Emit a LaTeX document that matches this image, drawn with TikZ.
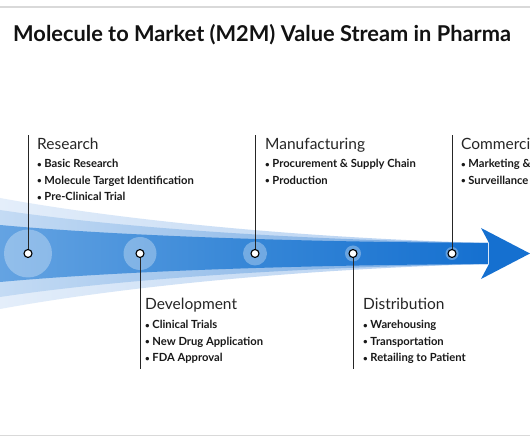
\documentclass[tikz,border=0pt]{standalone}
\usepackage{fontspec}
\setmainfont{Lato}
\definecolor{arrowblue}{RGB}{21,112,208}
\definecolor{coreleft}{RGB}{100,163,226}
\definecolor{bandAl}{RGB}{228,238,250}
\definecolor{bandAr}{RGB}{175,205,240}
\definecolor{bandBl}{RGB}{196,219,244}
\definecolor{bandBr}{RGB}{110,165,225}
\newcommand\mybul{{\fontsize{8}{9}\selectfont\raisebox{0.6pt}{•}}\hspace{2.6pt}}
\begin{document}
\begin{tikzpicture}[x=1pt,y=-1pt,
  dot/.style={circle,draw=black,fill=white,line width=1.1pt,inner sep=0pt,minimum size=8pt},
  halo/.style={circle,fill=white,fill opacity=0.3,inner sep=0pt},
  stem/.style={draw=black!85,line width=0.9pt},
  head/.style={anchor=base west,font=\fontsize{15.5}{18}\selectfont,text=black!85,inner sep=0pt},
  item/.style={anchor=base west,font=\bfseries\fontsize{11.2}{13}\selectfont,text=black!90,inner sep=0pt},
  rule/.style={draw=black!15,line width=1.2pt}]
\useasboundingbox (0,0) rectangle (530,443);
\clip (0,0) rectangle (530,443);
\fill[white] (0,0) rectangle (530,443);
\draw[rule] (0,7) -- (530,7);
\draw[rule] (0,435.5) -- (530,435.5);
\node[anchor=base west,inner sep=0pt,font=\bfseries\fontsize{21.8}{25}\selectfont,text=black!93] (title) at (13,42) {Molecule to Market (M2M) Value Stream in Pharma};
% bands
\shade[left color=bandAl, right color=bandAr]
  (0,198) .. controls (120,220) and (300,238) .. (488,243) -- (488,264)
  .. controls (300,269) and (120,287) .. (0,309) -- cycle;
\shade[left color=bandBl, right color=bandBr]
  (0,210) .. controls (120,228) and (300,240) .. (488,243) -- (488,264)
  .. controls (300,267) and (120,279) .. (0,297) -- cycle;
\shade[left color=coreleft, right color=arrowblue, middle color={rgb,255:red,55;green,135;blue,215}]
  (0,225) .. controls (120,236) and (300,242) .. (488,243) -- (488,264)
  .. controls (300,265) and (120,271) .. (0,282) -- cycle;
\fill[arrowblue] (481,228) -- (530,253.5) -- (481,279) -- (489,264) -- (489,243) -- cycle;
% halos
\node[halo,minimum size=48pt] (g1) at (28,253.5) {};
\node[halo,minimum size=33pt] (g2) at (140,253.5) {};
\node[halo,minimum size=24pt] (g3) at (255,253.5) {};
\node[halo,minimum size=16pt] (g4) at (353,253.5) {};
\node[halo,minimum size=13pt] (g5) at (452,253.5) {};
% dots
\node[dot] (d1) at (28,253.5) {};
\node[dot] (d2) at (140,253.5) {};
\node[dot] (d3) at (255,253.5) {};
\node[dot] (d4) at (353,253.5) {};
\node[dot] (d5) at (452,253.5) {};
\coordinate (t1) at (28,135);
\coordinate (t2) at (140,369);
\coordinate (t3) at (255,135);
\coordinate (t4) at (353,369);
\coordinate (t5) at (452,135);
\draw[stem] (d1.north) -- (t1);
\draw[stem] (d2.south) -- (t2);
\draw[stem] (d3.north) -- (t3);
\draw[stem] (d4.south) -- (t4);
\draw[stem] (d5.north) -- (t5);
% Research
\node[head] (h1) at (37,149.5) {Research};
\node[item] (r1) at (37,168) {\mybul Basic Research};
\node[item] (r2) at (37,184.5) {\mybul Molecule Target Identification};
\node[item] (r3) at (37,201) {\mybul Pre-Clinical Trial};
% Development
\node[head] (h2) at (145,310) {Development};
\node[item] (v1) at (145,329) {\mybul Clinical Trials};
\node[item] (v2) at (145,345.5) {\mybul New Drug Application};
\node[item] (v3) at (145,362) {\mybul FDA Approval};
% Manufacturing
\node[head] (h3) at (265,149.5) {Manufacturing};
\node[item] (m1) at (265,168) {\mybul Procurement \& Supply Chain};
\node[item] (m2) at (265,184.5) {\mybul Production};
% Distribution
\node[head] (h4) at (363,310) {Distribution};
\node[item] (s1) at (363,329) {\mybul Warehousing};
\node[item] (s2) at (363,345.5) {\mybul Transportation};
\node[item] (s3) at (363,362) {\mybul Retailing to Patient};
% Commercial
\node[head] (h5) at (461,149.5) {Commercial};
\node[item] (c1) at (461,168) {\mybul Marketing \& Sales};
\node[item] (c2) at (461,184.5) {\mybul Surveillance};
\end{tikzpicture}
\end{document}
